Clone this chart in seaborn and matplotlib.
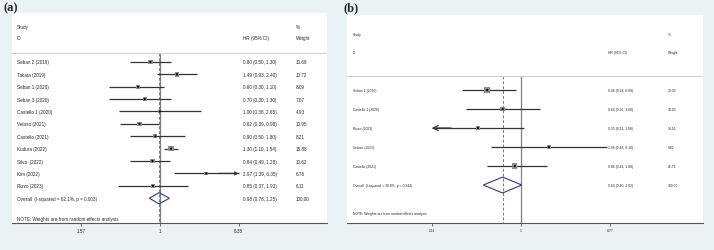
import seaborn as sns
import matplotlib.pyplot as plt
import numpy as np
import pandas as pd
from matplotlib.patches import Polygon

sns.set_theme(style="white")
plt.rcParams['font.family'] = ['Liberation Sans', 'DejaVu Sans']

# panel (a) data
a_study = ['Seban 2 (2019)', 'Takata (2019)', 'Seban 1 (2020)', 'Seban 3 (2020)',
           'Castello 1 (2020)', 'Veloso (2021)', 'Castello (2021)', 'Kudura (2022)',
           'Silva  (2022)', 'Kim (2022)', 'Rizzo (2023)']
a_hr = [0.80, 1.49, 0.60, 0.70, 1.00, 0.62, 0.90, 1.30, 0.84, 2.97, 0.85]
a_lo = [0.50, 0.93, 0.30, 0.30, 0.38, 0.39, 0.50, 1.10, 0.49, 1.39, 0.37]
a_hi = [1.30, 2.40, 1.10, 1.30, 2.65, 0.98, 1.80, 1.54, 1.28, 6.35, 1.93]
a_weight = [10.68, 10.72, 8.09, 7.07, 4.93, 10.95, 8.21, 15.88, 10.62, 6.76, 6.11]
a_overall = [0.98, 0.78, 1.25]
a_overall_label = 'Overall  (I-squared = 62.1%, p = 0.003)'
a_ticks = [0.157, 1, 6.35]
a_ticklabels = ['.157', '1', '6.35']

# panel (b) data
b_study = ['Seban 1 (2020)', 'Castello 1 (2020)', 'Rizzo (2021)', 'Veloso (2021)', 'Castello (2021)']
b_hr = [0.44, 0.64, 0.35, 1.98, 0.86]
b_lo = [0.24, 0.26, 0.11, 0.48, 0.44]
b_hi = [0.89, 1.60, 1.08, 8.10, 1.88]
b_weight = [30.09, 18.83, 14.16, 9.82, 26.76]
b_overall = [0.64, 0.40, 1.02]
b_overall_label = 'Overall  (I-squared = 38.8%, p = 0.244)'
b_ticks = [0.114, 1, 8.77]
b_ticklabels = ['.114', '1', '8.77']

BG = '#eaf2f3'
W, H = 714, 251
fig = plt.figure(figsize=(W / 100, H / 100), dpi=100, facecolor=BG)


def px_axes(x0, y0, x1, y1):
    return fig.add_axes([x0 / W, 1 - y1 / H, (x1 - x0) / W, (y1 - y0) / H])


def forest(ax, study, hr, lo, hi, wt, overall, overall_label, ticks, ticklabels,
           xl, yl, hy1, hy2, sep, note_y, fs, sq_max, arrow_ms, dh):
    n = len(study)
    rows = np.arange(n)
    lim_lo, lim_hi = ticks[0], ticks[-1]
    ax.set_facecolor('white')
    ax.set_xscale('log')
    ax.set_xlim(np.exp(xl[0]), np.exp(xl[1]))
    ax.set_ylim(*yl)

    # reference lines
    ax.vlines(1, sep, yl[0], color='#7f7f7f', lw=0.9, zorder=1)
    ax.vlines(overall[0], sep, yl[0], color='#d9534f', lw=0.7, linestyles=(0, (3, 2)), zorder=1)
    ax.axhline(sep, color='#d0d0d0', lw=0.8)

    # confidence intervals
    for y, l, h in zip(rows, lo, hi):
        l2, h2 = max(l, lim_lo), min(h, lim_hi)
        ax.hlines(y, l2, h2, color='#333333', lw=0.9, zorder=2)
        if l < lim_lo:
            ax.annotate('', xy=(lim_lo, y), xytext=(l2 * 1.6, y),
                        arrowprops=dict(arrowstyle='->', lw=0.9, color='#333333',
                                        mutation_scale=arrow_ms, shrinkA=0, shrinkB=0))
        if h >= lim_hi:
            ax.annotate('', xy=(lim_hi, y), xytext=(h2 / 1.6, y),
                        arrowprops=dict(arrowstyle='->', lw=0.9, color='#333333',
                                        mutation_scale=arrow_ms, shrinkA=0, shrinkB=0))

    df = pd.DataFrame({'hr': hr, 'row': rows, 'weight': wt})
    sns.scatterplot(data=df, x='hr', y='row', size='weight', sizes=(0, sq_max),
                    size_norm=(0, max(wt)), marker='s', color='#8c8c8c',
                    edgecolor='none', legend=False, ax=ax, zorder=3)
    sns.scatterplot(data=df, x='hr', y='row', s=2.5, color='black',
                    edgecolor='none', legend=False, ax=ax, zorder=4)

    # overall diamond
    est, olo, ohi = overall
    yo = n
    ax.add_patch(Polygon([(olo, yo), (est, yo - dh), (ohi, yo), (est, yo + dh)],
                         closed=True, fill=False, edgecolor='#2e3a8c', lw=0.8, zorder=3))

    tr = ax.get_yaxis_transform()
    ax.text(0.016, hy1, 'Study', transform=tr, fontsize=fs, va='center')
    ax.text(0.016, hy2, 'ID', transform=tr, fontsize=fs, va='center')
    ax.text(0.733, hy2, 'HR (95% CI)', transform=tr, fontsize=fs, va='center')
    ax.text(0.902, hy1, '%', transform=tr, fontsize=fs, va='center')
    ax.text(0.902, hy2, 'Weight', transform=tr, fontsize=fs, va='center')
    for y, s, e, l, h, w in zip(rows, study, hr, lo, hi, wt):
        ax.text(0.016, y, s, transform=tr, fontsize=fs, va='center')
        ax.text(0.733, y, f'{e:.2f} ({l:.2f}, {h:.2f})', transform=tr, fontsize=fs, va='center')
        ax.text(0.902, y, f'{w:.2f}', transform=tr, fontsize=fs, va='center')
    ax.text(0.016, yo, overall_label, transform=tr, fontsize=fs, va='center')
    ax.text(0.733, yo, f'{est:.2f} ({olo:.2f}, {ohi:.2f})', transform=tr, fontsize=fs, va='center')
    ax.text(0.902, yo, '100.00', transform=tr, fontsize=fs, va='center')
    ax.text(0.016, note_y, 'NOTE: Weights are from random effects analysis',
            transform=tr, fontsize=fs, va='center')

    for s in ['top', 'left', 'right']:
        ax.spines[s].set_visible(False)
    ax.spines['bottom'].set_color('#555555')
    ax.spines['bottom'].set_linewidth(0.8)
    ax.set_yticks([])
    ax.set_xticks(ticks)
    ax.set_xticklabels(ticklabels)
    ax.minorticks_off()
    ax.tick_params(axis='x', bottom=True, direction='out', length=2.5, width=0.6,
                   color='#555555', labelsize=fs, pad=1)
    ax.set_xlabel('')
    ax.set_ylabel('')


ax_a = px_axes(12, 14, 327, 224)
forest(ax_a, a_study, a_hr, a_lo, a_hi, a_weight, a_overall, a_overall_label,
       a_ticks, a_ticklabels, xl=(-3.47, 3.92), yl=(13.0, -3.95),
       hy1=-2.9, hy2=-1.94, sep=-0.73, note_y=12.6, fs=3.3, sq_max=16,
       arrow_ms=5, dh=0.45)

ax_b = px_axes(347, 16, 703, 224)
forest(ax_b, b_study, b_hr, b_lo, b_hi, b_weight, b_overall, b_overall_label,
       b_ticks, b_ticklabels, xl=(-4.24, 4.44), yl=(7.0, -3.95),
       hy1=-2.95, hy2=-2.0, sep=-0.74, note_y=6.47, fs=2.4, sq_max=16,
       arrow_ms=9, dh=0.42)

fig.text(4 / W, 1 - 8 / H, '(a)', fontsize=9, fontweight='bold',
         family='Liberation Serif', va='center', ha='left')
fig.text(344 / W, 1 - 8 / H, '(b)', fontsize=9, fontweight='bold',
         family='Liberation Serif', va='center', ha='left')

fig.savefig('out.png', dpi=100, facecolor=BG)
